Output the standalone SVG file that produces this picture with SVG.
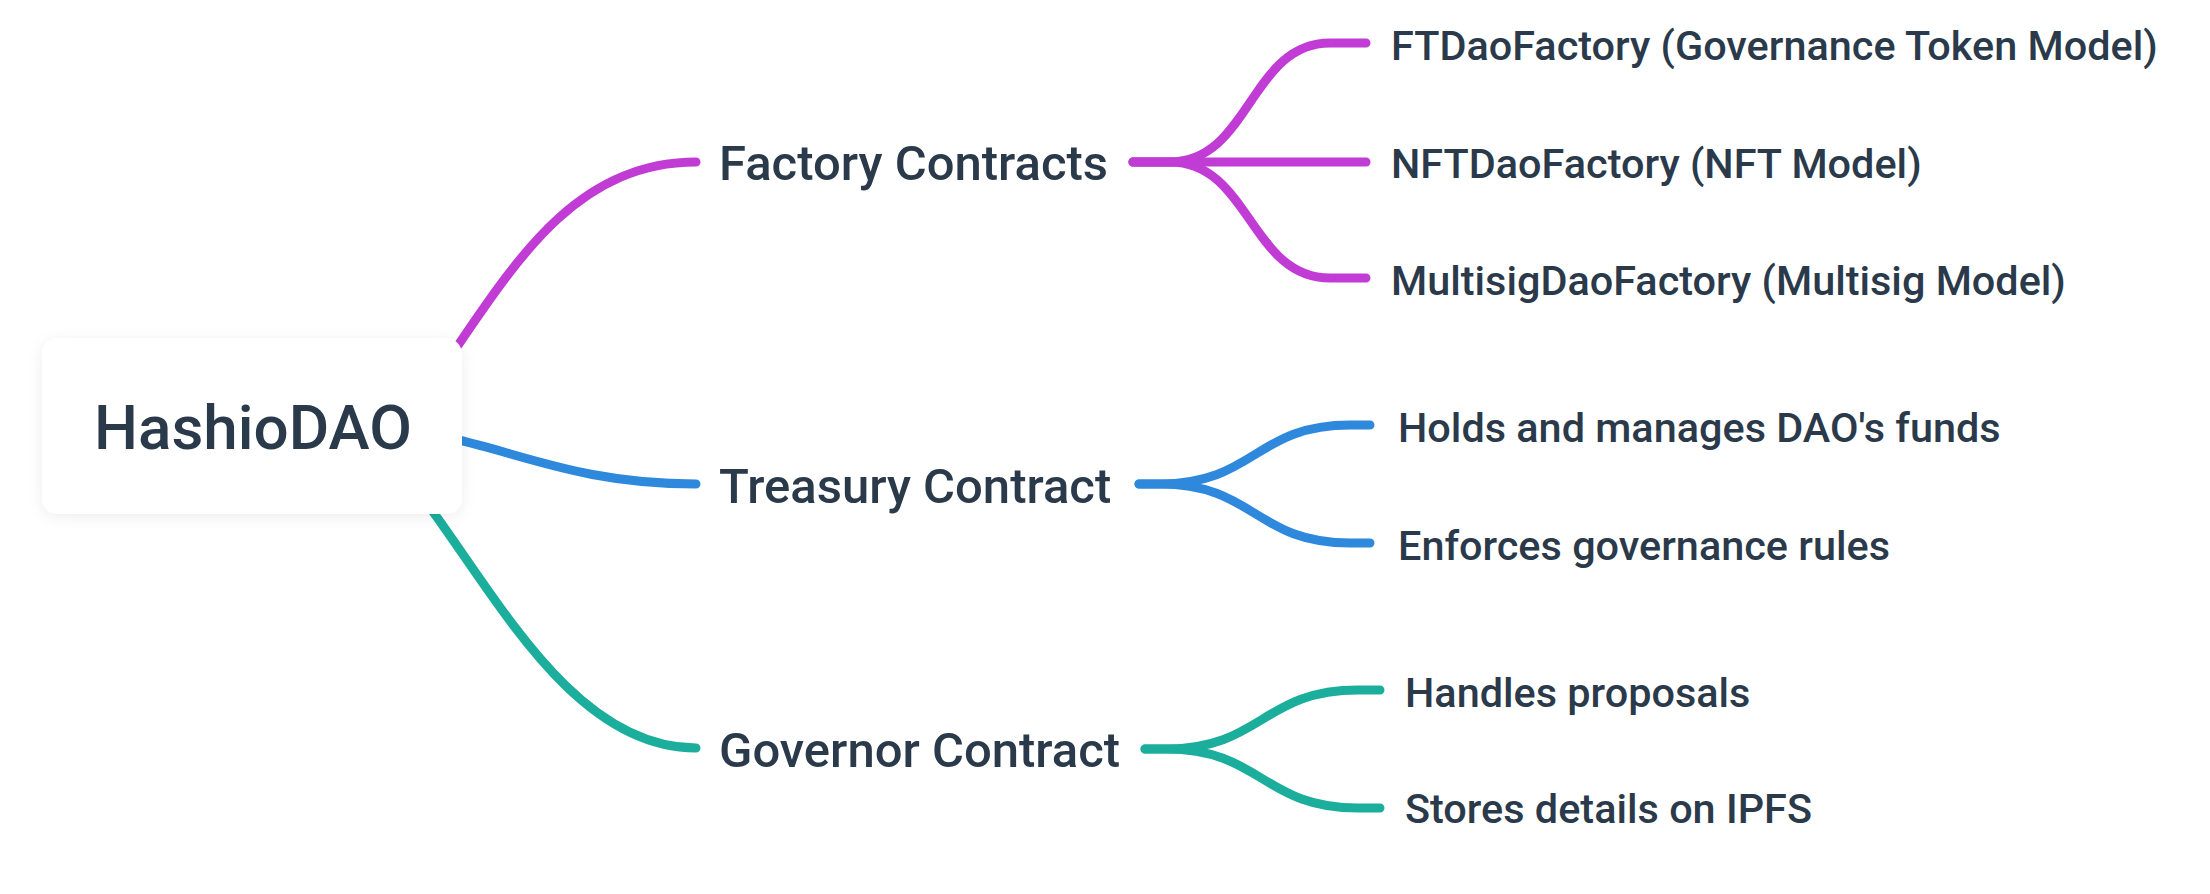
<svg xmlns="http://www.w3.org/2000/svg" width="2210" height="894" viewBox="0 0 2210 894">
  <defs>
    <filter id="shadow" x="-20%" y="-30%" width="140%" height="160%">
      <feDropShadow dx="0" dy="3" stdDeviation="7" flood-color="#000" flood-opacity="0.07"/>
    </filter>
  </defs>
  <style>
    .edge { fill: none; stroke-width: 9; stroke-linecap: round; stroke-linejoin: round; }
    .purple { stroke: #C03CD4; }
    .blue { stroke: #2E88DC; }
    .teal { stroke: #1BAE9C; }
    text { font-family: Roboto, "Liberation Sans", sans-serif; font-weight: 500; fill: #2B3A4B; }
    .root { font-size: 62px; }
    .mid { font-size: 49px; }
    .leaf { font-size: 41.4px; }
  </style>
  <rect width="2210" height="894" fill="#ffffff"/>

  <g id="connectors">
    <!-- root to main branches -->
    <path class="edge purple" d="M 420,400 C 500,290 560,162 696,162"/>
    <path class="edge blue" d="M 400,430 C 500,440 560,484 696,484"/>
    <path class="edge teal" d="M 400,470 C 480,560 560,748 696,748"/>
    <!-- Factory Contracts children -->
    <path class="edge purple" d="M 1133,162 L 1170,162 C 1250,162 1250,43 1330,43 L 1366,43"/>
    <path class="edge purple" d="M 1133,162 L 1366,162"/>
    <path class="edge purple" d="M 1133,162 L 1170,162 C 1250,162 1250,278 1330,278 L 1366,278"/>
    <!-- Treasury Contract children -->
    <path class="edge blue" d="M 1139,484 L 1160,484 C 1255,484 1255,425 1350,425 L 1370,425"/>
    <path class="edge blue" d="M 1139,484 L 1160,484 C 1255,484 1255,543 1350,543 L 1370,543"/>
    <!-- Governor Contract children -->
    <path class="edge teal" d="M 1145,749 L 1166,749 C 1262,749 1262,690 1358,690 L 1380,690"/>
    <path class="edge teal" d="M 1145,749 L 1166,749 C 1262,749 1262,808 1358,808 L 1380,808"/>
  </g>

  <g id="node-root">
    <rect x="42" y="338" width="420" height="176" rx="16" ry="16" fill="#ffffff" filter="url(#shadow)"/>
    <text class="root" x="253" y="449" text-anchor="middle">HashioDAO</text>
  </g>

  <g id="node-factory">
    <text class="mid" x="719" y="180">Factory Contracts</text>
  </g>
  <g id="node-treasury">
    <text class="mid" x="719" y="503">Treasury Contract</text>
  </g>
  <g id="node-governor">
    <text class="mid" x="719" y="767">Governor Contract</text>
  </g>

  <g id="node-ftdao">
    <text class="leaf" x="1391" y="60">FTDaoFactory (Governance Token Model)</text>
  </g>
  <g id="node-nftdao">
    <text class="leaf" x="1391" y="178">NFTDaoFactory (NFT Model)</text>
  </g>
  <g id="node-multisig">
    <text class="leaf" x="1391" y="295">MultisigDaoFactory (Multisig Model)</text>
  </g>

  <g id="node-holds">
    <text class="leaf" x="1398" y="442">Holds and manages DAO's funds</text>
  </g>
  <g id="node-enforces">
    <text class="leaf" x="1398" y="560">Enforces governance rules</text>
  </g>

  <g id="node-handles">
    <text class="leaf" x="1405" y="707">Handles proposals</text>
  </g>
  <g id="node-stores">
    <text class="leaf" x="1405" y="823">Stores details on IPFS</text>
  </g>
</svg>
